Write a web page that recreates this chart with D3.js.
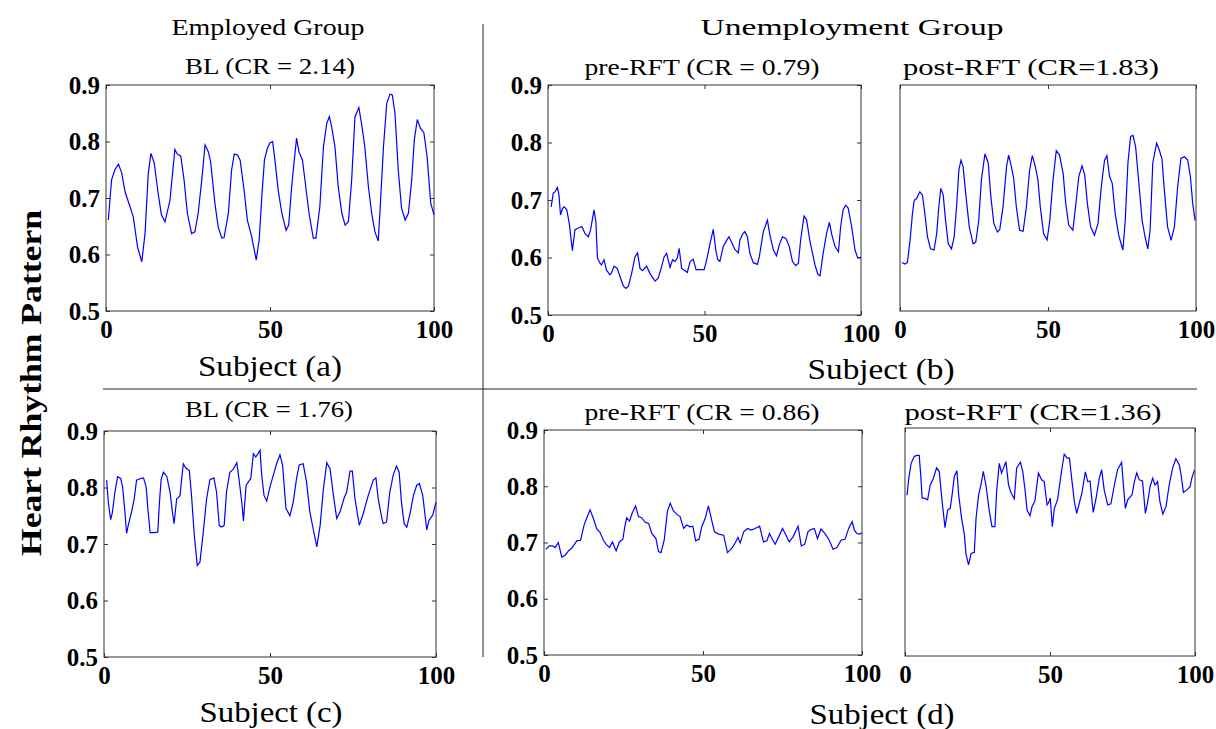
<!DOCTYPE html>
<html>
<head>
<meta charset="utf-8">
<script src="https://cdn.jsdelivr.net/npm/d3@7"></script>
<style>
  body { margin: 0; background: #fff; }
  svg { display: block; }
  text { font-family: "Liberation Serif", "Times New Roman", serif; fill: #000; }
</style>
</head>
<body>
<div id="chart"></div>
<script>
// [subject, heart rhythm pattern]
const employedBL = [[0.7,0.661],[1.7,0.732],[2.7,0.75],[3.8,0.76],[4.8,0.744],[5.8,0.711],[7.3,0.685],[8.3,0.667],[9.6,0.614],[10.9,0.587],[11.9,0.637],[12.9,0.744],[13.7,0.779],[14.7,0.762],[15.9,0.708],[16.9,0.67],[18.0,0.658],[19.5,0.696],[20.3,0.744],[21.0,0.786],[21.7,0.778],[22.8,0.774],[23.8,0.732],[24.8,0.673],[26.1,0.637],[27.1,0.64],[28.1,0.673],[29.2,0.732],[30.2,0.794],[31.2,0.782],[31.9,0.764],[33.2,0.691],[34.2,0.649],[35.3,0.629],[36.0,0.63],[37.3,0.673],[38.3,0.75],[39.1,0.778],[40.1,0.776],[40.9,0.767],[42.1,0.714],[43.1,0.661],[44.4,0.632],[45.8,0.59],[46.7,0.626],[47.5,0.702],[48.3,0.767],[49.2,0.788],[50.0,0.798],[50.8,0.8],[51.5,0.767],[52.5,0.714],[53.6,0.673],[54.9,0.643],[55.7,0.652],[56.6,0.72],[57.4,0.767],[58.1,0.806],[58.8,0.782],[59.9,0.767],[60.9,0.72],[61.9,0.673],[63.2,0.629],[64.0,0.629],[65.2,0.685],[66.3,0.791],[67.3,0.832],[68.1,0.844],[68.8,0.826],[69.8,0.791],[70.8,0.72],[71.9,0.673],[72.9,0.652],[73.9,0.658],[74.9,0.732],[75.9,0.844],[76.6,0.853],[77.1,0.86],[77.9,0.832],[78.9,0.791],[80.0,0.72],[81.0,0.673],[82.0,0.64],[83.0,0.624],[83.5,0.673],[84.6,0.791],[85.6,0.868],[86.6,0.884],[87.3,0.882],[88.1,0.85],[89.1,0.75],[90.1,0.682],[91.2,0.661],[92.2,0.673],[93.2,0.732],[94.0,0.803],[94.9,0.839],[95.9,0.823],[96.9,0.816],[97.9,0.773],[99.0,0.691],[100,0.67]];

const unemployedPreA = [[1.0,0.688],[1.7,0.712],[2.2,0.714],[3.0,0.722],[3.5,0.709],[4.0,0.674],[4.7,0.686],[5.2,0.688],[6.0,0.683],[6.8,0.659],[7.8,0.612],[8.6,0.648],[9.2,0.65],[10.8,0.654],[11.8,0.642],[12.9,0.636],[13.6,0.648],[14.7,0.683],[15.3,0.662],[15.8,0.599],[16.6,0.59],[17.1,0.587],[17.9,0.596],[18.7,0.578],[19.8,0.57],[20.3,0.573],[21.1,0.585],[22.1,0.581],[23.0,0.567],[24.1,0.55],[24.9,0.546],[25.7,0.55],[26.7,0.572],[27.8,0.601],[28.6,0.608],[29.4,0.581],[30.2,0.577],[31.5,0.585],[32.6,0.572],[34.2,0.559],[35.2,0.564],[36.3,0.584],[37.1,0.601],[37.9,0.607],[39.0,0.583],[39.8,0.596],[40.6,0.593],[41.3,0.599],[41.9,0.616],[42.7,0.581],[43.8,0.577],[44.5,0.574],[45.4,0.593],[46.4,0.597],[47.3,0.579],[48.6,0.579],[49.9,0.579],[50.7,0.596],[51.8,0.625],[52.8,0.649],[53.6,0.613],[54.2,0.597],[54.9,0.593],[56.0,0.619],[56.9,0.628],[57.8,0.636],[58.7,0.626],[59.7,0.614],[60.8,0.608],[61.3,0.63],[62.2,0.641],[62.9,0.645],[63.7,0.636],[64.5,0.607],[65.6,0.591],[66.9,0.588],[67.5,0.601],[68.8,0.645],[70.1,0.665],[70.9,0.639],[72.0,0.613],[73.0,0.603],[73.9,0.622],[74.9,0.636],[76.0,0.633],[77.1,0.619],[78.1,0.593],[79.1,0.586],[80.0,0.59],[80.7,0.63],[81.8,0.672],[82.6,0.666],[83.7,0.628],[85.3,0.587],[86.2,0.571],[86.9,0.568],[87.9,0.607],[89.0,0.642],[89.9,0.661],[90.7,0.639],[91.7,0.619],[92.8,0.61],[93.5,0.654],[94.3,0.683],[95.1,0.691],[95.9,0.686],[97.0,0.654],[98.1,0.613],[98.9,0.6],[100,0.6]];

const unemployedPostA = [[0.6,0.586],[1.7,0.583],[2.5,0.586],[3.4,0.625],[4.2,0.672],[4.8,0.696],[5.6,0.699],[6.7,0.711],[7.6,0.705],[8.4,0.672],[9.3,0.631],[10.3,0.61],[11.5,0.608],[12.4,0.637],[13.1,0.684],[13.8,0.717],[14.6,0.705],[15.4,0.66],[16.3,0.619],[17.4,0.61],[18.3,0.631],[19.1,0.684],[19.9,0.75],[20.6,0.767],[21.3,0.756],[22.2,0.708],[23.4,0.649],[24.7,0.619],[25.6,0.622],[26.6,0.66],[27.5,0.732],[28.7,0.778],[29.8,0.762],[30.7,0.702],[31.7,0.655],[32.9,0.64],[33.7,0.644],[34.8,0.684],[36.0,0.756],[36.7,0.776],[37.6,0.756],[38.4,0.735],[39.3,0.684],[40.4,0.643],[41.6,0.641],[42.7,0.684],[43.8,0.75],[44.7,0.775],[45.7,0.756],[46.6,0.732],[47.4,0.684],[48.5,0.637],[49.7,0.626],[50.6,0.66],[51.7,0.732],[52.8,0.784],[53.9,0.776],[55.1,0.744],[56.0,0.69],[57.0,0.652],[58.4,0.643],[59.3,0.684],[60.4,0.738],[61.5,0.757],[62.4,0.741],[63.3,0.69],[64.4,0.649],[65.7,0.634],[66.9,0.655],[68.0,0.72],[69.1,0.767],[69.9,0.775],[70.8,0.738],[71.7,0.726],[72.7,0.672],[73.9,0.634],[75.3,0.608],[76.1,0.66],[77.0,0.762],[77.9,0.809],[78.7,0.811],[79.6,0.791],[80.7,0.726],[81.8,0.66],[82.8,0.631],[83.7,0.61],[84.5,0.643],[85.4,0.762],[86.7,0.797],[87.6,0.785],[88.5,0.769],[89.3,0.714],[90.4,0.649],[91.6,0.625],[92.7,0.649],[93.8,0.72],[94.9,0.77],[96.1,0.773],[97.2,0.767],[98.1,0.738],[98.9,0.69],[99.7,0.66]];

const employedBLB = [[0.8,0.813],[1.3,0.774],[2.0,0.743],[2.5,0.755],[3.3,0.792],[4.1,0.819],[5.0,0.816],[5.6,0.801],[6.3,0.757],[6.8,0.719],[7.3,0.733],[8.3,0.757],[9.1,0.78],[9.8,0.813],[11.0,0.816],[11.9,0.817],[12.7,0.801],[13.2,0.763],[13.9,0.72],[15.1,0.72],[16.2,0.721],[16.7,0.774],[17.2,0.814],[17.9,0.827],[18.9,0.82],[19.9,0.792],[20.6,0.757],[21.1,0.736],[21.9,0.78],[22.4,0.782],[22.9,0.786],[23.4,0.816],[23.9,0.842],[24.6,0.835],[25.7,0.83],[26.4,0.783],[27.2,0.715],[28.1,0.662],[28.9,0.668],[29.9,0.721],[30.9,0.78],[31.9,0.814],[33.1,0.817],[33.9,0.792],[34.7,0.733],[35.4,0.73],[36.2,0.733],[36.9,0.792],[37.9,0.827],[38.9,0.832],[40.0,0.844],[40.7,0.813],[41.5,0.774],[42.0,0.741],[42.8,0.804],[43.5,0.81],[44.2,0.816],[45.0,0.86],[45.7,0.854],[46.4,0.86],[47.0,0.866],[47.5,0.822],[48.2,0.786],[49.0,0.776],[50.0,0.801],[51.0,0.822],[52.0,0.842],[53.0,0.858],[53.8,0.839],[54.8,0.763],[56.0,0.75],[57.0,0.774],[58.0,0.816],[58.8,0.84],[60.0,0.842],[61.0,0.81],[62.0,0.757],[63.0,0.727],[64.1,0.695],[65.1,0.733],[66.1,0.798],[67.1,0.844],[68.1,0.833],[69.1,0.786],[70.1,0.745],[71.1,0.757],[72.3,0.781],[73.1,0.792],[74.1,0.829],[74.8,0.829],[75.6,0.78],[76.9,0.733],[78.1,0.754],[79.6,0.786],[81.1,0.813],[81.9,0.817],[82.6,0.78],[83.6,0.748],[84.1,0.736],[85.1,0.739],[86.1,0.792],[87.1,0.822],[88.1,0.838],[88.9,0.827],[89.6,0.774],[90.4,0.736],[91.2,0.73],[92.2,0.754],[93.2,0.786],[94.2,0.804],[95.0,0.807],[96.0,0.786],[96.7,0.751],[97.2,0.725],[97.9,0.742],[99.0,0.751],[100,0.774]];

const unemployedPreB = [[0.6,0.688],[1.7,0.694],[2.7,0.694],[3.5,0.691],[4.5,0.7],[5.6,0.674],[6.6,0.677],[7.7,0.685],[8.9,0.691],[10.3,0.703],[11.5,0.704],[12.6,0.731],[13.4,0.743],[14.5,0.758],[15.5,0.743],[16.6,0.724],[17.6,0.718],[18.7,0.704],[19.5,0.697],[20.6,0.691],[21.5,0.701],[22.7,0.685],[23.7,0.701],[24.8,0.706],[25.5,0.731],[26.0,0.744],[26.9,0.738],[27.7,0.752],[28.8,0.765],[29.7,0.746],[30.7,0.744],[31.8,0.736],[32.9,0.734],[33.9,0.716],[35.2,0.707],[36.0,0.684],[36.8,0.682],[37.8,0.704],[38.8,0.755],[39.7,0.77],[40.7,0.756],[41.8,0.75],[42.8,0.746],[43.9,0.725],[44.9,0.731],[46.0,0.728],[46.8,0.729],[47.7,0.703],[48.8,0.706],[49.6,0.728],[50.7,0.743],[51.7,0.765],[52.6,0.743],[53.6,0.719],[54.9,0.715],[56.5,0.713],[57.7,0.682],[59.1,0.69],[60.1,0.699],[61.0,0.709],[61.7,0.699],[62.8,0.719],[64.0,0.725],[65.1,0.722],[66.4,0.725],[67.8,0.729],[69.0,0.701],[70.1,0.703],[70.9,0.716],[71.7,0.707],[72.7,0.697],[73.8,0.71],[75.0,0.725],[76.1,0.713],[77.1,0.701],[78.3,0.71],[79.9,0.729],[80.9,0.694],[82.0,0.697],[83.0,0.719],[83.9,0.723],[85.0,0.725],[86.0,0.707],[87.1,0.724],[88.5,0.715],[89.7,0.704],[90.9,0.688],[92.1,0.691],[93.4,0.704],[94.7,0.706],[95.8,0.725],[96.9,0.737],[97.6,0.722],[98.4,0.716],[99.2,0.715],[100,0.717]];

const unemployedPostB = [[0.7,0.782],[1.3,0.812],[2.1,0.838],[3.2,0.85],[4.1,0.852],[4.9,0.852],[5.5,0.812],[5.9,0.777],[6.7,0.777],[7.8,0.774],[8.7,0.8],[9.8,0.812],[10.9,0.83],[11.8,0.824],[12.8,0.771],[13.8,0.725],[14.7,0.756],[15.6,0.759],[16.4,0.789],[17.0,0.815],[17.9,0.825],[18.5,0.783],[19.5,0.742],[20.5,0.712],[21.0,0.68],[21.9,0.66],[22.8,0.68],[23.9,0.682],[24.5,0.742],[25.4,0.783],[26.2,0.8],[27.0,0.824],[27.9,0.8],[29.1,0.753],[30.0,0.727],[31.0,0.727],[31.6,0.789],[32.5,0.838],[33.3,0.821],[34.0,0.83],[34.8,0.841],[35.7,0.8],[36.6,0.786],[37.7,0.776],[38.5,0.83],[39.8,0.84],[40.6,0.824],[41.4,0.791],[42.1,0.756],[43.1,0.746],[43.8,0.762],[44.8,0.772],[46.0,0.821],[47.1,0.809],[48.0,0.806],[49.0,0.765],[49.4,0.768],[50.1,0.777],[50.8,0.727],[51.5,0.759],[52.6,0.774],[53.8,0.818],[54.9,0.854],[55.9,0.847],[56.7,0.847],[57.6,0.806],[58.4,0.771],[59.2,0.75],[60.1,0.768],[61.0,0.786],[62.2,0.823],[63.0,0.806],[63.8,0.807],[64.9,0.752],[65.9,0.777],[67.0,0.812],[67.8,0.827],[68.7,0.791],[69.9,0.765],[71.0,0.767],[72.2,0.8],[73.3,0.827],[74.7,0.84],[75.4,0.794],[76.0,0.759],[76.8,0.774],[78.3,0.783],[79.1,0.806],[79.9,0.821],[80.8,0.809],[81.9,0.807],[82.9,0.75],[83.7,0.771],[84.5,0.797],[85.4,0.812],[86.2,0.8],[87.1,0.806],[87.9,0.771],[88.9,0.749],[90.0,0.762],[91.1,0.8],[92.3,0.83],[93.4,0.846],[94.6,0.835],[95.2,0.818],[96.0,0.787],[97.1,0.791],[98.3,0.797],[98.9,0.812],[99.8,0.826]];

const xTicks = [0, 50, 100];
const yTicks = [0.5, 0.6, 0.7, 0.8, 0.9];

const svg = d3.select("#chart").append("svg")
    .attr("width", 1216)
    .attr("height", 729);

const panels = [
    {data: employedBL,      x0: 106, x1: 434,  y0: 85,  y1: 311, yAxis: true},
    {data: unemployedPreA,  x0: 548, x1: 861,  y0: 85,  y1: 315, yAxis: true},
    {data: unemployedPostA, x0: 900, x1: 1196, y0: 85,  y1: 311, yAxis: false},
    {data: employedBLB,     x0: 104, x1: 436,  y0: 431, y1: 657, yAxis: true},
    {data: unemployedPreB,  x0: 544, x1: 862,  y0: 430, y1: 655, yAxis: true},
    {data: unemployedPostB, x0: 905, x1: 1195, y0: 428, y1: 656, yAxis: false}
];

function styleAxis(g) {
    g.attr("font-family", '"Liberation Serif", "Times New Roman", serif')
        .attr("font-size", 25)
        .attr("font-weight", "bold");
    g.select(".domain").remove();
    g.selectAll("line").attr("stroke", "#333");
}

panels.forEach(function (p) {
    const x = d3.scaleLinear().domain([0, 100]).range([p.x0, p.x1]);
    const y = d3.scaleLinear().domain([0.5, 0.9]).range([p.y1, p.y0]);

    // x axis with labels, plus inward ticks on top
    svg.append("g")
        .attr("transform", "translate(0," + p.y1 + ")")
        .call(d3.axisBottom(x).tickValues(xTicks).tickSizeInner(-4).tickSizeOuter(0).tickPadding(9))
        .call(styleAxis);
    svg.append("g")
        .attr("transform", "translate(0," + p.y0 + ")")
        .call(d3.axisTop(x).tickValues(xTicks).tickSizeInner(-4).tickSizeOuter(0).tickFormat(""))
        .call(styleAxis);

    if (p.yAxis) {
        svg.append("g")
            .attr("transform", "translate(" + p.x0 + ",0)")
            .call(d3.axisLeft(y).tickValues(yTicks).tickSizeInner(-4).tickSizeOuter(0).tickPadding(6)
                .tickFormat(d3.format(".1f")))
            .call(styleAxis);
        svg.append("g")
            .attr("transform", "translate(" + p.x1 + ",0)")
            .call(d3.axisRight(y).tickValues(yTicks).tickSizeInner(-4).tickSizeOuter(0).tickFormat(""))
            .call(styleAxis);
    }

    svg.append("rect")
        .attr("x", p.x0)
        .attr("y", p.y0)
        .attr("width", p.x1 - p.x0)
        .attr("height", p.y1 - p.y0)
        .attr("fill", "none")
        .attr("stroke", "#333")
        .attr("stroke-width", 1);

    const line = d3.line()
        .x(d => x(d[0]))
        .y(d => y(d[1]));

    svg.append("path")
        .datum(p.data)
        .attr("fill", "none")
        .attr("stroke", "#0000ff")
        .attr("stroke-width", 1.2)
        .attr("d", line);
});

// group dividers
svg.append("line")
    .attr("x1", 483).attr("x2", 483)
    .attr("y1", 24).attr("y2", 657)
    .attr("stroke", "#222");
svg.append("line")
    .attr("x1", 103).attr("x2", 1197)
    .attr("y1", 389).attr("y2", 389)
    .attr("stroke", "#222");

function addText(str, cx, y, size, width, bold) {
    svg.append("text")
        .attr("x", cx - width / 2)
        .attr("y", y)
        .attr("font-size", size)
        .attr("font-weight", bold ? "bold" : "normal")
        .attr("textLength", width)
        .attr("lengthAdjust", "spacingAndGlyphs")
        .text(str);
}

addText("Employed Group", 268, 35, 24, 193);
addText("Unemployment Group", 852, 35, 24, 303);
addText("BL (CR = 2.14)", 270, 74, 23, 170);
addText("pre-RFT (CR = 0.79)", 702, 75, 23, 235);
addText("post-RFT (CR=1.83)", 1031, 75, 23, 256);
addText("Subject (a)", 270, 376, 30, 144);
addText("Subject (b)", 881, 379, 30, 147);
addText("BL (CR = 1.76)", 269, 417, 23, 168);
addText("pre-RFT (CR = 0.86)", 702, 420, 23, 235);
addText("post-RFT (CR=1.36)", 1033, 420, 23, 257);
addText("Subject (c)", 271, 722, 30, 143);
addText("Subject (d)", 882, 724, 30, 145);

svg.append("text")
    .attr("transform", "translate(41,383) rotate(-90)")
    .attr("x", -173)
    .attr("y", 0)
    .attr("font-size", 30)
    .attr("font-weight", "bold")
    .attr("textLength", 346)
    .attr("lengthAdjust", "spacingAndGlyphs")
    .text("Heart Rhythm Pattern");
</script>
</body>
</html>
